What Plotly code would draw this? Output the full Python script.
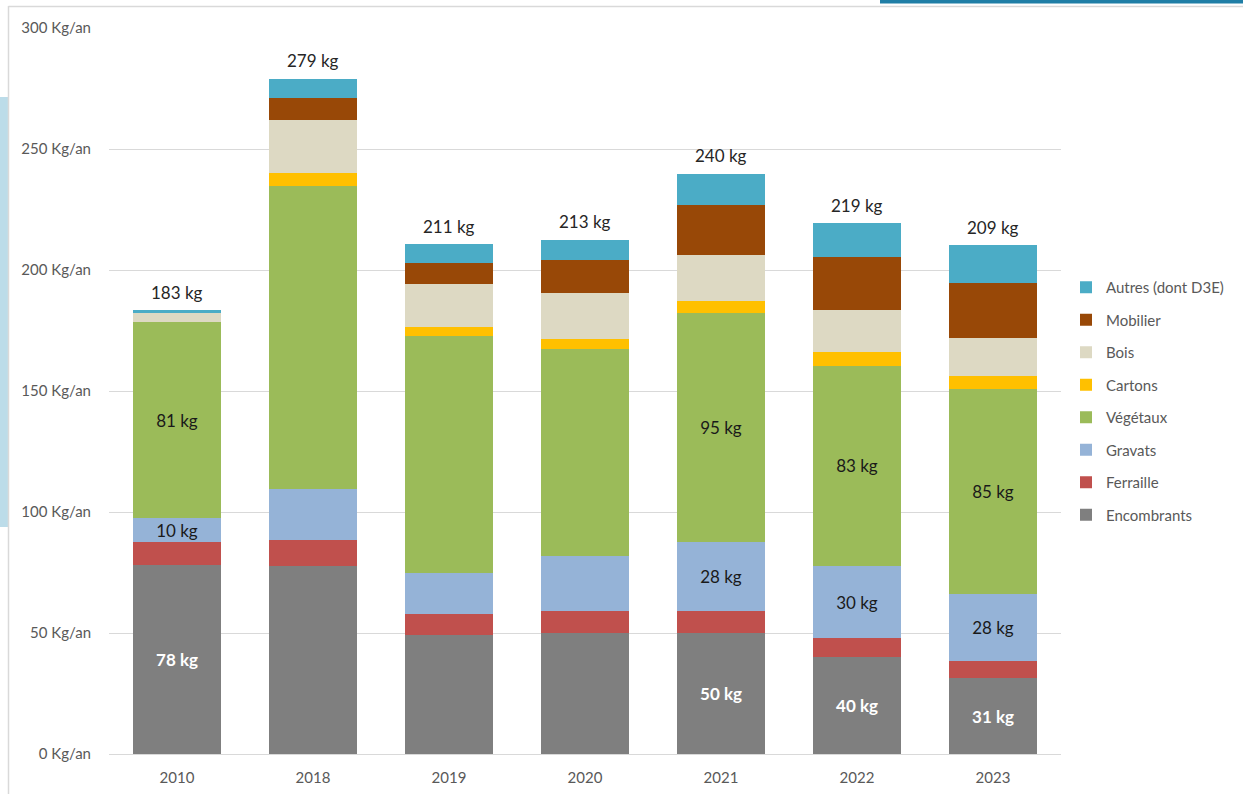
import plotly.graph_objects as go

years = ["2010", "2018", "2019", "2020", "2021", "2022", "2023"]
encombrants = [78, 77.7, 49.1, 50, 50, 40, 31.3]
ferraille = [9.5, 10.7, 8.9, 9, 9.1, 8, 7.3]
gravats = [10, 21.1, 16.9, 23, 28.4, 29.6, 27.7]
vegetaux = [81, 125.3, 97.9, 85.4, 94.8, 82.9, 84.5]
cartons = [0, 5.3, 3.6, 4.1, 4.8, 5.6, 5.5]
bois = [3.8, 21.9, 17.9, 18.9, 19, 17.2, 15.6]
mobilier = [0, 9.1, 8.4, 13.7, 20.9, 22.2, 22.8]
autres = [1.0, 7.9, 8.0, 8.5, 12.8, 13.8, 15.6]

totals = [183, 279, 211, 213, 240, 219, 209]
enc_labels = ["78 kg", "", "", "", "50 kg", "40 kg", "31 kg"]
grav_labels = ["10 kg", "", "", "", "28 kg", "30 kg", "28 kg"]
veg_labels = ["81 kg", "", "", "", "95 kg", "83 kg", "85 kg"]
y_ticks = [0, 50, 100, 150, 200, 250, 300]
y_ticktext = [f"{v} Kg/an" for v in y_ticks]

FONT = "Lato"
series = [
    ("Encombrants", encombrants, "#7F7F7F", enc_labels, "white", True),
    ("Ferraille", ferraille, "#C0504D", None, None, False),
    ("Gravats", gravats, "#95B3D7", grav_labels, "#1a1a1a", False),
    ("Végétaux", vegetaux, "#9BBB59", veg_labels, "#1a1a1a", False),
    ("Cartons", cartons, "#FFC000", None, None, False),
    ("Bois", bois, "#DDD9C3", None, None, False),
    ("Mobilier", mobilier, "#984807", None, None, False),
    ("Autres (dont D3E)", autres, "#4BACC6", None, None, False),
]

fig = go.Figure()
for i, (name, vals, color, labels, tcolor, bold) in enumerate(series):
    if labels is not None:
        kw = dict(
            text=[f"<b>{t}</b>" if (bold and t) else t for t in labels],
            textposition="inside",
            insidetextanchor="middle",
            textangle=0,
            textfont=dict(family=FONT, size=17, color=tcolor),
        )
    else:
        kw = dict(textposition="none")
    fig.add_trace(go.Bar(
        x=years, y=vals, name=name, legendgroup=name, legendrank=1000 - i,
        marker=dict(color=color, line=dict(width=0)),
        hoverinfo="skip", **kw))

stack_tops = [sum(v) for v in zip(encombrants, ferraille, gravats, vegetaux,
                                   cartons, bois, mobilier, autres)]
for idx, (top, tot) in enumerate(zip(stack_tops, totals)):
    # x given as the category index on the category axis
    fig.add_annotation(x=idx, y=top, text=f"{tot} kg", showarrow=False,
                       yanchor="middle", yshift=18,
                       font=dict(family=FONT, size=17, color="#262626"))

# decorations (frame, side strip, top band)
def px_x(p):
    return (p - 109) / 952.0

def px_y(p):
    return (754 - p) / 726.0

fig.add_shape(type="rect", xref="paper", yref="paper",
              x0=px_x(0), x1=px_x(8), y0=px_y(527), y1=px_y(97),
              fillcolor="#BCDCE9", line=dict(width=0), layer="below")
fig.add_shape(type="line", xref="paper", yref="paper",
              x0=px_x(8.5), x1=px_x(8.5), y0=px_y(6), y1=px_y(800),
              line=dict(color="#D9D9D9", width=1.5))
fig.add_shape(type="line", xref="paper", yref="paper",
              x0=px_x(8.5), x1=px_x(1250), y0=px_y(6.5), y1=px_y(6.5),
              line=dict(color="#D9D9D9", width=1.5))
fig.add_shape(type="rect", xref="paper", yref="paper",
              x0=px_x(880), x1=px_x(1250), y0=px_y(3.5), y1=px_y(-2),
              fillcolor="#1F7EA6", line=dict(width=0))

fig.update_layout(
    width=1243, height=794,
    margin=dict(l=109, r=182, t=28, b=40),
    paper_bgcolor="white", plot_bgcolor="white",
    barmode="stack", bargap=0.35,
    font=dict(family=FONT, size=15, color="#595959"),
    showlegend=True,
    legend=dict(
        traceorder="grouped", tracegroupgap=10,
        x=px_x(1066), xanchor="left", y=px_y(271), yanchor="top",
        font=dict(family=FONT, size=15, color="#595959"),
        bgcolor="rgba(0,0,0,0)",
    ),
    uniformtext=dict(minsize=17, mode="show"),
)
fig.update_yaxes(
    range=[0, 300], tickvals=y_ticks, ticktext=y_ticktext, automargin=False,
    showgrid=True, gridcolor="#D9D9D9", gridwidth=1,
    zeroline=False, showline=False, ticks="outside", ticklen=14,
    tickcolor="rgba(0,0,0,0)",
    tickfont=dict(family=FONT, size=15, color="#595959"),
)
fig.update_xaxes(
    type="category", categoryorder="array", categoryarray=years,
    range=[-0.5, len(years) - 0.5], automargin=False,
    showline=True, linecolor="#D9D9D9", linewidth=1, showgrid=False,
    ticks="outside", ticklen=10, tickcolor="rgba(0,0,0,0)",
    tickfont=dict(family=FONT, size=15, color="#595959"),
)

fig.write_html("out.html", config={"displayModeBar": False},
               post_script="document.body.style.margin='0';")
